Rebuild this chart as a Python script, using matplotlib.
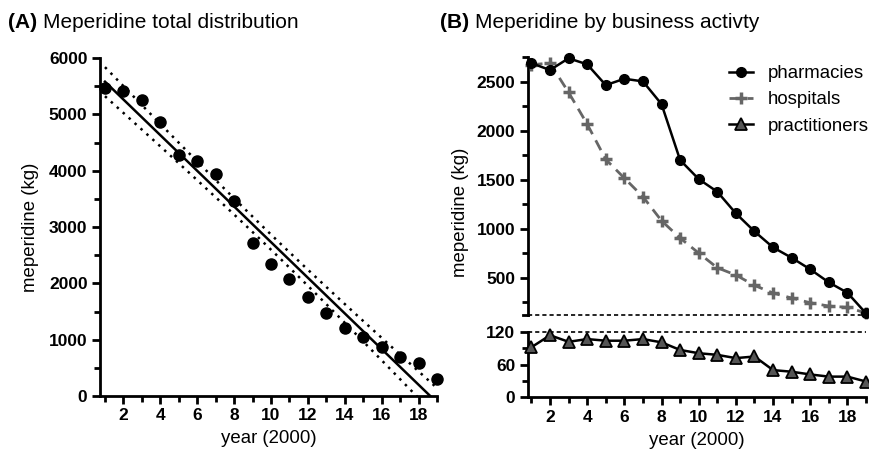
import matplotlib.pyplot as plt
import numpy as np

plt.rcParams['font.family'] = ['Liberation Sans', 'DejaVu Sans']

years = np.arange(1, 20)
total = [5460, 5420, 5250, 4860, 4280, 4165, 3940, 3460, 2710, 2335,
         2080, 1760, 1480, 1215, 1045, 870, 695, 580, 300]
pharmacies = [2690, 2620, 2740, 2678, 2466, 2531, 2504, 2272, 1701, 1507,
              1378, 1157, 973, 810, 704, 586, 453, 347, 137]
hospitals = [2675, 2690, 2392, 2068, 1708, 1517, 1327, 1082, 905, 752,
             602, 528, 422, 344, 293, 245, 211, 198, 140]
practitioners = [92, 114, 102, 107, 104, 104, 107, 101, 87, 81,
                 78, 72, 75, 50, 47, 42, 38, 38, 29]

LW = 2.0
W, H = 869, 449
fig = plt.figure(figsize=(W / 100, H / 100), dpi=100)


def box(l, t, r, b):
    return [l / W, 1 - b / H, (r - l) / W, (b - t) / H]


def style(ax):
    for s in ['top', 'right']:
        ax.spines[s].set_visible(False)
    for s in ['left', 'bottom']:
        ax.spines[s].set_linewidth(LW)
    ax.tick_params(which='major', length=6, width=LW, labelsize=12.5, pad=3)
    ax.tick_params(which='minor', length=4, width=LW)
    for lab in ax.get_xticklabels() + ax.get_yticklabels():
        lab.set_fontweight('bold')


# ---- panel A
axA = fig.add_axes(box(100, 58, 437, 396))
x = years.astype(float)
y = np.array(total, dtype=float)
slope, icpt = np.polyfit(x, y, 1)
xx = np.linspace(1, 19, 200)
fit = icpt + slope * xx
res = y - (icpt + slope * x)
s = np.sqrt(np.sum(res ** 2) / (len(x) - 2))
ci = 2.110 * s * np.sqrt(1 / len(x) + (xx - x.mean()) ** 2 / np.sum((x - x.mean()) ** 2))
axA.plot(xx, fit, color='black', lw=1.8)
axA.plot(xx, fit + ci, color='black', lw=1.8, ls=(0, (1, 2.2)))
axA.plot(xx, fit - ci, color='black', lw=1.8, ls=(0, (1, 2.2)))
axA.plot(x, y, 'o', color='black', ms=8, clip_on=False, zorder=5)
axA.set_xlim(0.73, 19)
axA.set_ylim(0, 6000)
axA.set_xticks(np.arange(2, 19, 2))
axA.set_xticks(np.arange(1, 20, 2), minor=True)
axA.set_yticks(np.arange(0, 6001, 1000))
axA.set_yticks(np.arange(500, 6000, 1000), minor=True)
style(axA)
axA.set_xlabel('year (2000)', fontsize=13.4, labelpad=5)
axA.set_ylabel('meperidine (kg)', fontsize=13.4, labelpad=7)

# ---- panel B (broken axis)
axU = fig.add_axes(box(527.7, 57.3, 866, 315))
axL = fig.add_axes(box(527.7, 332, 866, 397.3), sharex=axU)

axU.plot(years, pharmacies, '-o', color='black', lw=1.8, ms=7, clip_on=False,
         zorder=5, label='pharmacies')
axU.plot(years, hospitals, ls=(0, (4, 2.5)), color='#666666', lw=2.0,
         marker='+', ms=9, mew=2.5, clip_on=False, zorder=4, label='hospitals')
axL.plot(years, practitioners, '-^', color='black', mfc='#555555', mec='black',
         lw=1.8, ms=8, mew=1.3, clip_on=False, zorder=5)
axU.plot([], [], '-^', color='black', mfc='#555555', mec='black', lw=1.8, ms=8,
         mew=1.3, label='practitioners')

axU.set_ylim(120, 2750)
axU.set_yticks([500, 1000, 1500, 2000, 2500])
axU.set_yticks(np.arange(250, 2751, 500), minor=True)
axL.set_ylim(0, 120)
axL.set_yticks([0, 60, 120])
axL.set_yticks([30, 90], minor=True)
axL.set_xlim(0.8, 19)
axL.set_xticks(np.arange(2, 19, 2))
axL.set_xticks(np.arange(1, 20, 2), minor=True)

style(axU)
style(axL)
axU.spines['bottom'].set_visible(False)
axU.tick_params(axis='x', which='both', bottom=False, labelbottom=False)
axU.axhline(120, color='black', lw=1.2, ls=(0, (2.5, 1.8)), clip_on=False)
axU.plot([0.8 - 0.25, 0.8], [120, 120], color='black', lw=LW, clip_on=False)
axL.axhline(120, color='black', lw=1.2, ls=(0, (2.5, 1.8)), clip_on=False)
axL.set_xlabel('year (2000)', fontsize=13.4, labelpad=5)

fig.text(460 / W, 1 - 212 / H, 'meperidine (kg)', fontsize=13.4, rotation=90,
         ha='center', va='center')

leg = axU.legend(loc='upper right', bbox_to_anchor=(869 / W, 1 - 65 / H),
                 bbox_transform=fig.transFigure, frameon=False, fontsize=13.4,
                 handlelength=1.3, handletextpad=0.8, labelspacing=0.5,
                 borderaxespad=0, borderpad=0)

# ---- titles
fig.text(8 / W, 1 - 22 / H, '(A)', fontsize=15, fontweight='bold', va='center')
fig.text(43 / W, 1 - 22 / H, 'Meperidine total distribution', fontsize=15, va='center')
fig.text(440 / W, 1 - 22 / H, '(B)', fontsize=15, fontweight='bold', va='center')
fig.text(475 / W, 1 - 22 / H, 'Meperidine by business activty', fontsize=15, va='center')

fig.savefig('out.png', dpi=100)
